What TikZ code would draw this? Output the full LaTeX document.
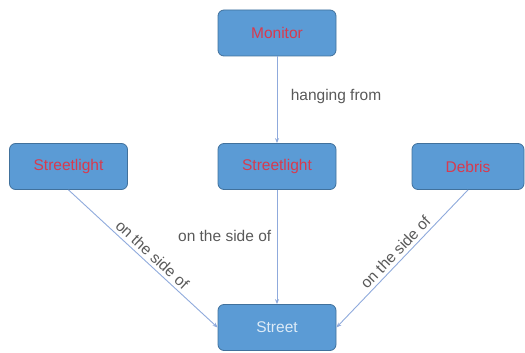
\documentclass[tikz,border=0pt]{standalone}
\usepackage{fontspec}
\setmainfont{Liberation Sans}
\usetikzlibrary{arrows.meta}
\definecolor{boxblue}{HTML}{5B9BD5}
\definecolor{boxedge}{HTML}{41719C}
\definecolor{boxred}{HTML}{D83A4E}
\definecolor{streettext}{HTML}{DDEBF7}
\definecolor{linkblue}{HTML}{8FAADC}
\definecolor{labelgray}{HTML}{595959}
\begin{document}
\begin{tikzpicture}[x=1pt,y=-1pt]
  % Styling
  \tikzset{
    box/.style={
      rectangle,
      rounded corners=6pt,
      minimum width=118pt,
      minimum height=46pt,
      fill=boxblue,
      draw=boxedge,
      line width=0.8pt,
      text=boxred,
      font=\fontsize{15.5}{18}\selectfont
    },
    link/.style={
      -{Stealth[length=5pt,width=4pt]},
      line width=0.9pt,
      linkblue
    },
    relation/.style={
      font=\fontsize{15.5}{18}\selectfont,
      text=labelgray
    }
  }
  \useasboundingbox (0,0) rectangle (525,353);

  % ===== Nodes =====
  \node[box] (monitor) at (277, 33) {Monitor};
  \node[box] (lightL) at (68.5, 166.5) {Streetlight};
  \node[box] (lightM) at (277, 166.5) {Streetlight};
  \node[box, minimum width=112pt] (debris) at (468, 166.5) {Debris};
  \node[box, text=streettext] (street) at (277, 327.5) {Street};

  % ===== Relations =====
  \draw[link] (monitor) -- (lightM)
    node[relation, right, pos=0.46, xshift=10pt] {hanging from};
  \draw[link] (lightM) -- (street)
    node[relation, left, pos=0.4, xshift=-2pt] {on the side of};
  \draw[link] (lightL.south) -- (street.west)
    node[relation, sloped, above, pos=0.52] {on the side of};
  \draw[link] (debris.south) -- (street.east)
    node[relation, sloped, above, pos=0.5] {on the side of};

\end{tikzpicture}
\end{document}
